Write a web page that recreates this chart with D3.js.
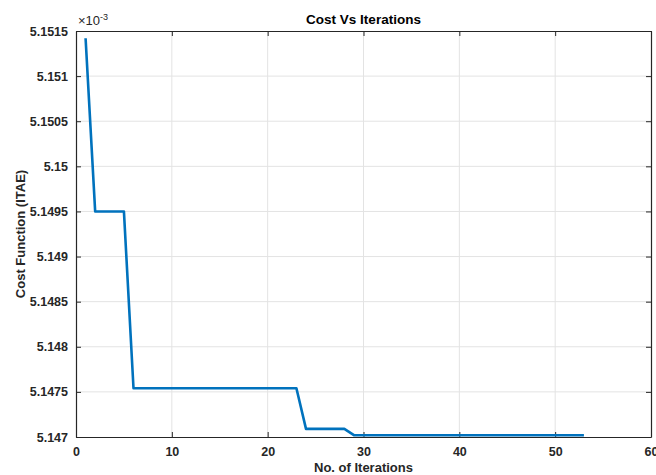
<!DOCTYPE html>
<html>
<head>
<meta charset="utf-8">
<script src="https://cdn.jsdelivr.net/npm/d3@7"></script>
<style>
  body { margin: 0; background: #fff; }
  svg { display: block; font-family: "Liberation Sans", Arial, sans-serif; }
</style>
</head>
<body>
<svg width="656" height="475"></svg>
<script>
// cost value per iteration (x 10^-3)
const iterations = [];
for (let i = 1; i <= 53; i++) iterations.push(i);
const cost = [
  5.15142, 5.1495, 5.1495, 5.1495, 5.1495, 5.14754, 5.14754, 5.14754, 5.14754, 5.14754,
  5.14754, 5.14754, 5.14754, 5.14754, 5.14754, 5.14754, 5.14754, 5.14754, 5.14754, 5.14754,
  5.14754, 5.14754, 5.14754, 5.14709, 5.14709, 5.14709, 5.14709, 5.14709, 5.14702, 5.14702,
  5.14702, 5.14702, 5.14702, 5.14702, 5.14702, 5.14702, 5.14702, 5.14702, 5.14702, 5.14702,
  5.14702, 5.14702, 5.14702, 5.14702, 5.14702, 5.14702, 5.14702, 5.14702, 5.14702, 5.14702,
  5.14702, 5.14702, 5.14702
];
const xTicks = [0, 10, 20, 30, 40, 50, 60];
const yTicks = [5.147, 5.1475, 5.148, 5.1485, 5.149, 5.1495, 5.15, 5.1505, 5.151, 5.1515];

const margin = {left: 76, right: 5, top: 31, bottom: 38};
const W = 656, H = 475;
const $svg = d3.select('svg');

const x = d3.scaleLinear().domain([0, 60]).range([margin.left, W - margin.right]);
const y = d3.scaleLinear().domain([5.147, 5.1515]).range([H - margin.bottom, margin.top]);

// grid
const grid = $svg.append('g');
grid.selectAll('line.gx').data(xTicks.slice(1, -1)).enter().append('line')
  .attr('x1', d => x(d)).attr('x2', d => x(d))
  .attr('y1', y.range()[1]).attr('y2', y.range()[0])
  .attr('stroke', '#e3e3e3').attr('stroke-width', 1);
grid.selectAll('line.gy').data(yTicks.slice(1, -1)).enter().append('line')
  .attr('x1', x.range()[0]).attr('x2', x.range()[1])
  .attr('y1', d => y(d)).attr('y2', d => y(d))
  .attr('stroke', '#e3e3e3').attr('stroke-width', 1);

// axes (ticks inward)
const fmtY = d => String(+d.toFixed(4));
const axB = $svg.append('g').attr('transform', `translate(0,${y.range()[0]})`)
  .call(d3.axisBottom(x).tickValues(xTicks).tickSizeInner(-5).tickSizeOuter(0).tickPadding(10));
const axL = $svg.append('g').attr('transform', `translate(${x.range()[0]},0)`)
  .call(d3.axisLeft(y).tickValues(yTicks).tickFormat(fmtY).tickSizeInner(-5).tickSizeOuter(0).tickPadding(8));
const axT = $svg.append('g').attr('transform', `translate(0,${y.range()[1]})`)
  .call(d3.axisTop(x).tickValues(xTicks).tickSizeInner(-5).tickSizeOuter(0).tickFormat(''));
const axR = $svg.append('g').attr('transform', `translate(${x.range()[1]},0)`)
  .call(d3.axisRight(y).tickValues(yTicks).tickSizeInner(-5).tickSizeOuter(0).tickFormat(''));

[axB, axL, axT, axR].forEach(function(a) {
  a.selectAll('path').attr('stroke', '#262626').attr('stroke-width', 1.2);
  a.selectAll('line').attr('stroke', '#262626');
  a.selectAll('text').attr('fill', '#262626')
    .style('font-size', '12.5px').style('font-weight', 'bold')
    .style('font-family', '"Liberation Sans", Arial, sans-serif');
});

// line
const line = d3.line().x((d, i) => x(iterations[i])).y(d => y(d));
$svg.append('path').datum(cost)
  .attr('d', line)
  .attr('fill', 'none')
  .attr('stroke', '#0072BD')
  .attr('stroke-width', 2.6)
  .attr('stroke-linejoin', 'round');

// exponent label
const ex = $svg.append('text').attr('x', x.range()[0] + 2).attr('y', y.range()[1] - 6)
  .attr('fill', '#262626').style('font-size', '13px');
ex.append('tspan').text('\u00d710');
ex.append('tspan').attr('dy', -5).style('font-size', '9px').text('-3');

// title and labels
$svg.append('text').attr('x', (x.range()[0] + x.range()[1]) / 2).attr('y', 24)
  .attr('text-anchor', 'middle').attr('fill', '#000')
  .style('font-size', '13.5px').style('font-weight', 'bold').text('Cost Vs Iterations');
$svg.append('text').attr('x', (x.range()[0] + x.range()[1]) / 2).attr('y', 472)
  .attr('text-anchor', 'middle').attr('fill', '#262626')
  .style('font-size', '13px').style('font-weight', 'bold').text('No. of Iterations');
$svg.append('text')
  .attr('transform', `translate(25,${(y.range()[0] + y.range()[1]) / 2}) rotate(-90)`)
  .attr('text-anchor', 'middle').attr('fill', '#262626')
  .style('font-size', '13px').style('font-weight', 'bold').text('Cost Function (ITAE)');
</script>
</body>
</html>
